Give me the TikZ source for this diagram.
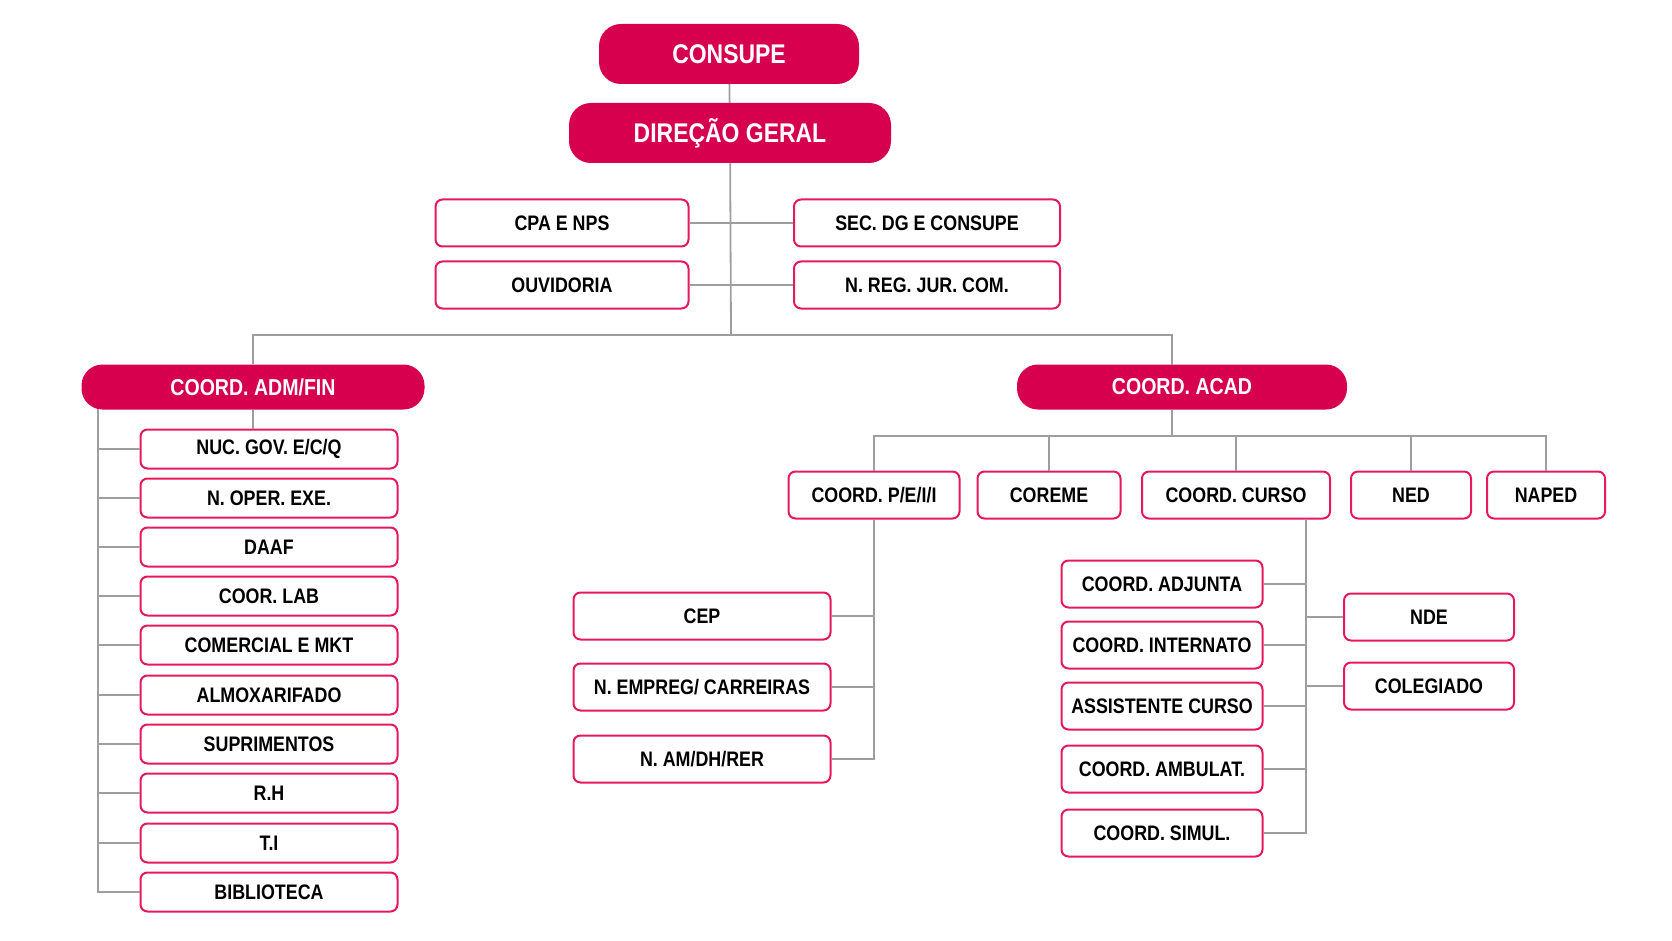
\documentclass[tikz,border=0pt]{standalone}
\usepackage{fontspec}
\setmainfont{Liberation Sans}[FakeStretch=0.85]
\usepackage{xcolor}
\usepackage{tikz}

\definecolor{pinkfill}{HTML}{D6004F}
\definecolor{pinkline}{HTML}{E5195B}
\definecolor{linegray}{HTML}{9E9E9E}

\begin{document}
\begin{tikzpicture}
    [x=1pt,y=-1pt,
    pill/.style={shape=rectangle,fill=pinkfill,text=white,rounded corners=22pt,inner sep=0pt,minimum height=60pt,font=\fontsize{27}{30}\selectfont\bfseries},
    subpill/.style={shape=rectangle,fill=pinkfill,text=white,rounded corners=21pt,inner sep=0pt,minimum height=45pt,font=\fontsize{23}{26}\selectfont\bfseries},
    unit/.style={shape=rectangle,draw=pinkline,fill=white,line width=2pt,rounded corners=7pt,inner sep=0pt,minimum height=47pt,font=\fontsize{21}{24}\selectfont\bfseries},
    unit1/.style={unit,minimum width=257pt,minimum height=39pt},
    edge/.style={draw=linegray,line width=1.8pt}]

    \useasboundingbox (0,0) rectangle (1672,941);

    \node (consupe) [pill,minimum width=260pt] at (729,54) {CONSUPE};
    \node (dg) [pill,minimum width=322pt] at (730,133) {DIREÇÃO GERAL};

    \node (cpa) [unit,minimum width=253pt] at (562,223) {CPA E NPS};
    \node (sec) [unit,minimum width=266pt] at (927,223) {SEC. DG E CONSUPE};
    \node (ouv) [unit,minimum width=253pt] at (562,285) {OUVIDORIA};
    \node (nreg) [unit,minimum width=266pt] at (927,285) {N. REG. JUR. COM.};

    \node (admfin) [subpill,minimum width=343pt] at (253,387) {COORD. ADM/FIN};
    \node (acad) [subpill,minimum width=330pt] at (1182,387) {COORD. ACAD};

    % adm/fin column
    \node (nuc) [unit1] at (269,449) {NUC. GOV. E/C/Q};
    \node (oper) [unit1] at (269,498) {N. OPER. EXE.};
    \node (daaf) [unit1] at (269,547) {DAAF};
    \node (lab) [unit1] at (269,596) {COOR. LAB};
    \node (mkt) [unit1] at (269,645) {COMERCIAL E MKT};
    \node (almox) [unit1] at (269,695) {ALMOXARIFADO};
    \node (supr) [unit1] at (269,744) {SUPRIMENTOS};
    \node (rh) [unit1] at (269,793) {R.H};
    \node (ti) [unit1] at (269,843) {T.I};
    \node (bib) [unit1] at (269,892) {BIBLIOTECA};

    % acad row
    \node (peii) [unit,minimum width=171pt] at (874,495) {COORD. P/E/I/I};
    \node (coreme) [unit,minimum width=143pt] at (1049,495) {COREME};
    \node (curso) [unit,minimum width=188pt] at (1236,495) {COORD. CURSO};
    \node (ned) [unit,minimum width=120pt] at (1411,495) {NED};
    \node (naped) [unit,minimum width=118pt] at (1546,495) {NAPED};

    \node (cep) [unit,minimum width=257pt] at (702,616) {CEP};
    \node (emp) [unit,minimum width=257pt] at (702,687) {N. EMPREG/ CARREIRAS};
    \node (amdh) [unit,minimum width=257pt] at (702,759) {N. AM/DH/RER};

    \node (adj) [unit,minimum width=201pt] at (1162,584) {COORD. ADJUNTA};
    \node (intern) [unit,minimum width=201pt] at (1162,645) {COORD. INTERNATO};
    \node (assist) [unit,minimum width=201pt] at (1162,706) {ASSISTENTE CURSO};
    \node (ambul) [unit,minimum width=201pt] at (1162,769) {COORD. AMBULAT.};
    \node (simul) [unit,minimum width=201pt] at (1162,833) {COORD. SIMUL.};
    \node (nde) [unit,minimum width=170pt] at (1429,617) {NDE};
    \node (coleg) [unit,minimum width=170pt] at (1429,686) {COLEGIADO};

    \coordinate (split) at (731,335);
    \coordinate (acadtop) at (1172,364.5);
    \coordinate (admbus) at (98,408.5);
    \coordinate (acadbus) at (1172,436);
    \coordinate (acadbot) at (1172,409.5);
    \coordinate (cursobus) at (1306,519);

    \draw [edge] (consupe) -- (dg);
    \draw [edge] (dg) -- (split);
    \draw [edge] (cpa) -- (sec);
    \draw [edge] (ouv) -- (nreg);
    \draw [edge] (admfin.north) |- (split) -| (acadtop);

    \draw [edge] (admfin.south) -- (admfin.south |- nuc.north);
    \draw [edge] (admbus) |- (bib.west);
    \draw [edge] (nuc.west) -- (nuc.west -| admbus);
    \draw [edge] (oper.west) -- (oper.west -| admbus);
    \draw [edge] (daaf.west) -- (daaf.west -| admbus);
    \draw [edge] (lab.west) -- (lab.west -| admbus);
    \draw [edge] (mkt.west) -- (mkt.west -| admbus);
    \draw [edge] (almox.west) -- (almox.west -| admbus);
    \draw [edge] (supr.west) -- (supr.west -| admbus);
    \draw [edge] (rh.west) -- (rh.west -| admbus);
    \draw [edge] (ti.west) -- (ti.west -| admbus);

    \draw [edge] (acadbot) -- (acadbus);
    \draw [edge] (peii.north) |- (acadbus) -| (naped.north);
    \draw [edge] (coreme.north) -- (coreme.north |- acadbus);
    \draw [edge] (curso.north) -- (curso.north |- acadbus);
    \draw [edge] (ned.north) -- (ned.north |- acadbus);

    \draw [edge] (peii.south) |- (amdh.east);
    \draw [edge] (cep.east) -- (cep.east -| peii.south);
    \draw [edge] (emp.east) -- (emp.east -| peii.south);

    \draw [edge] (cursobus) |- (simul.east);
    \draw [edge] (adj.east) -- (adj.east -| cursobus);
    \draw [edge] (intern.east) -- (intern.east -| cursobus);
    \draw [edge] (assist.east) -- (assist.east -| cursobus);
    \draw [edge] (ambul.east) -- (ambul.east -| cursobus);
    \draw [edge] (nde.west) -- (nde.west -| cursobus);
    \draw [edge] (coleg.west) -- (coleg.west -| cursobus);

  \end{tikzpicture}
\end{document}
